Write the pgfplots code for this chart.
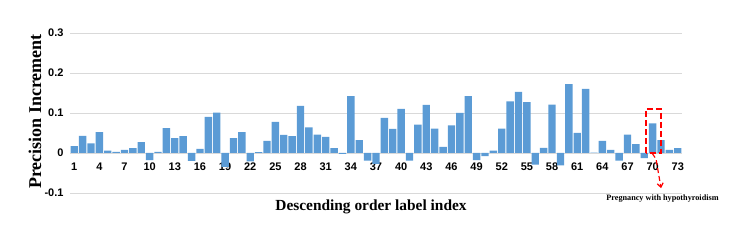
\documentclass[border=0pt]{standalone}
\usepackage{pgfplots}
\pgfplotsset{compat=1.18}
\usepackage{fontspec}
\setmainfont{Liberation Serif}
\newfontfamily\arial{Liberation Sans}
\usetikzlibrary{arrows.meta}
\definecolor{barblue}{RGB}{91,155,213}
\definecolor{gridgray}{RGB}{217,217,217}
\pgfplotstableread{
x y
1 0.017
2 0.043
3 0.024
4 0.052
5 0.006
6 0.003
7 0.008
8 0.012
9 0.027
10 -0.018
11 0.003
12 0.062
13 0.037
14 0.042
15 -0.020
16 0.010
17 0.090
18 0.101
19 -0.035
20 0.037
21 0.052
22 -0.021
23 0.002
24 0.030
25 0.078
26 0.045
27 0.042
28 0.118
29 0.064
30 0.046
31 0.040
32 0.012
33 -0.002
34 0.142
35 0.032
36 -0.019
37 -0.027
38 0.088
39 0.060
40 0.110
41 -0.019
42 0.071
43 0.120
44 0.061
45 0.015
46 0.069
47 0.100
48 0.142
49 -0.018
50 -0.008
51 0.006
52 0.061
53 0.129
54 0.153
55 0.127
56 -0.029
57 0.013
58 0.121
59 -0.031
60 0.172
61 0.050
62 0.160
63 0.001
64 0.030
65 0.008
66 -0.019
67 0.046
68 0.022
69 -0.013
70 0.074
71 0.032
72 0.008
73 0.012
}\datatable
\begin{document}
\begin{tikzpicture}[x=1pt,y=1pt]
\useasboundingbox (0,0) rectangle (734,246);
\begin{axis}[
  at={(70pt,53pt)}, anchor=south west,
  scale only axis, width=612pt, height=160pt,
  xmin=0.5, xmax=73.5, ymin=-0.1, ymax=0.3,
  axis line style={draw=none},
  tick style={draw=none},
  ymajorgrids, grid style={gridgray, line width=0.9pt},
  xtick={1,4,...,73},
  ytick={-0.1,0,0.1,0.2,0.3},
  yticklabels={-0.1,0,0.1,0.2,0.3},
  /pgf/number format/assume math mode=true,
  ticklabel style={font=\arial\bfseries\fontsize{11}{13}\selectfont},
  xticklabel style={yshift=33.7pt},
  yticklabel style={xshift=-3pt},
]
\addplot[ybar, bar width=0.88, fill=barblue, draw=none] table[x=x,y=y] {\datatable};
\draw[red, line width=1.5pt, dash pattern=on 6pt off 3pt] (axis cs:69.2,0) rectangle (axis cs:71.0,0.11);
\draw[red, line width=1.2pt, dash pattern=on 5pt off 3pt, -{Straight Barb[length=4pt,width=6pt]}] (axis cs:69.95,-0.001) -- (axis cs:70.4,-0.015) -- (axis cs:71.0,-0.088);
\end{axis}
\node[rotate=90, font=\bfseries\fontsize{18}{20}\selectfont] at (35,134.5) {Precision Increment};
\node[font=\bfseries\fontsize{15.4}{17}\selectfont] at (371,39) {Descending order label index};
\node[font=\bfseries\fontsize{8.2}{10}\selectfont] at (662.5,47) {Pregnancy with hypothyroidism};
\end{tikzpicture}
\end{document}
